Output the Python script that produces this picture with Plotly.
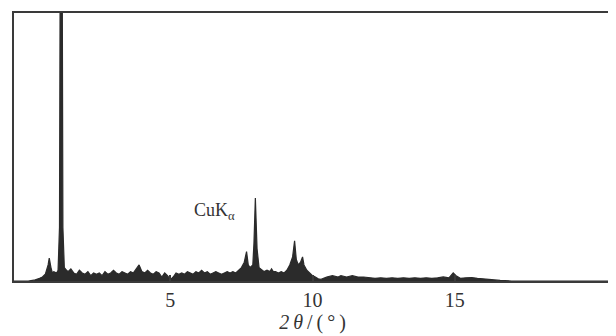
import plotly.graph_objects as go

two_theta = [-0.5, 0.0, 0.2, 0.3, 0.4, 0.5, 0.6, 0.7, 0.74, 0.8, 0.85, 0.9, 1.0, 1.05, 1.1, 1.12, 1.2, 1.22, 1.27,
             1.35, 1.4, 1.5, 1.6, 1.7, 1.8, 1.9, 2.0, 2.1, 2.2, 2.3, 2.4, 2.5, 2.6, 2.7, 2.8, 2.9, 3.0, 3.1, 3.2,
             3.3, 3.4, 3.5, 3.6, 3.7, 3.8, 3.9, 4.0, 4.1, 4.2, 4.3, 4.4, 4.5, 4.6, 4.7, 4.8, 4.9, 5.0, 5.1, 5.2,
             5.3, 5.4, 5.5, 5.6, 5.7, 5.8, 5.9, 6.0, 6.1, 6.2, 6.3, 6.4, 6.5, 6.6, 6.7, 6.8, 6.9, 7.0, 7.1, 7.2,
             7.3, 7.4, 7.5, 7.6, 7.68, 7.74, 7.8, 7.9, 7.94, 7.99, 8.05, 8.12, 8.3, 8.4, 8.5, 8.56, 8.62, 8.7,
             8.8, 8.9, 9.0, 9.1, 9.2, 9.3, 9.37, 9.43, 9.5, 9.58, 9.65, 9.7, 9.8, 9.9, 10.0, 10.1, 10.2, 10.3,
             10.4, 10.5, 10.7, 10.9, 11.0, 11.2, 11.4, 11.6, 11.8, 12.0, 12.2, 12.4, 12.6, 12.8, 13.0, 13.2,
             13.4, 13.6, 13.8, 14.0, 14.2, 14.4, 14.6, 14.8, 14.95, 15.05, 15.2, 15.4, 15.6, 15.8, 16.0, 16.3,
             16.6, 17.0, 20.5]
intensity = [0, 0, 0.3, 0.6, 1.0, 1.5, 2.5, 6, 8.5, 5, 3, 3.5, 3, 4, 20, 100, 100, 20, 5,
             4, 3.5, 4.5, 3, 2.5, 4, 3, 2.5, 3.5, 2, 3, 2.5, 3, 2, 3.5, 2.5, 3, 4, 3, 2.5,
             3.5, 3, 2.5, 3.5, 3, 4.5, 6, 3.5, 3, 4, 3, 2.5, 3.5, 3, 1.5, 3, 2, 0.5, 1.5, 3,
             2.5, 3, 2.5, 3.5, 3, 2.5, 3.5, 3, 4, 3, 3.5, 2.5, 3, 3.5, 3, 2.5, 3, 3.5, 3, 3.5,
             3, 4, 5, 7, 11, 6, 5, 6, 14, 31, 12, 5, 3.5, 4, 3.5, 4.5, 3.5, 3.5,
             3, 3.5, 3, 4, 6, 9, 15, 8, 6, 7, 9, 6, 4, 3, 2, 1.5, 0.8, 0.6,
             1.2, 1.5, 2, 1.5, 2, 1.5, 2, 1.5, 1.5, 1.2, 1, 1.2, 1, 1.2, 1, 1.2,
             1, 1.2, 1, 1.2, 1, 1.2, 1.5, 1.2, 3, 2, 1, 1.2, 1.3, 1, 0.8, 0.4,
             0.2, 0, 0]

x_ticks = [5, 10, 15]
x_tick_labels = ["5", "10", "15"]
x_title = "<i>2\u2009θ</i>\u2009/\u2009(\u2009°\u2009)"
peak_label = "CuK<sub>α</sub>"
peak_label_pos = (6.55, 26)

ink = "#2b2b2b"
serif = "Liberation Serif, Times New Roman, serif"

fig = go.Figure()
fig.add_trace(go.Scatter(
    x=two_theta, y=intensity, mode="lines",
    line=dict(color=ink, width=1.2),
    fill="tozeroy", fillcolor=ink,
    hoverinfo="skip", showlegend=False,
))

fig.add_annotation(
    x=peak_label_pos[0], y=peak_label_pos[1], text=peak_label,
    showarrow=False, font=dict(family=serif, size=18, color="#333333"),
    xanchor="center", yanchor="middle",
)

# page body has an 8px margin, so the figure is sized to fit the 616x336 window
fig.update_layout(
    width=608, height=328,
    margin=dict(l=6, r=4, t=3, b=55),
    paper_bgcolor="white", plot_bgcolor="white",
    xaxis=dict(
        range=[-0.5, 20.5], tickvals=x_ticks, ticktext=x_tick_labels,
        showgrid=False, zeroline=False,
        showline=True, linecolor="#3a3a3a", linewidth=2, mirror=True,
        ticks="inside", ticklen=6, tickcolor="#3a3a3a", tickwidth=1.5,
        tickfont=dict(family=serif, size=20, color="#333333"),
        title=dict(text=x_title, font=dict(family=serif, size=20, color="#333333"), standoff=5),
    ),
    yaxis=dict(
        range=[0, 100], showticklabels=False, ticks="",
        showgrid=False, zeroline=False,
        showline=True, linecolor="#3a3a3a", linewidth=2, mirror=True,
    ),
)

fig.write_html("out.html")
